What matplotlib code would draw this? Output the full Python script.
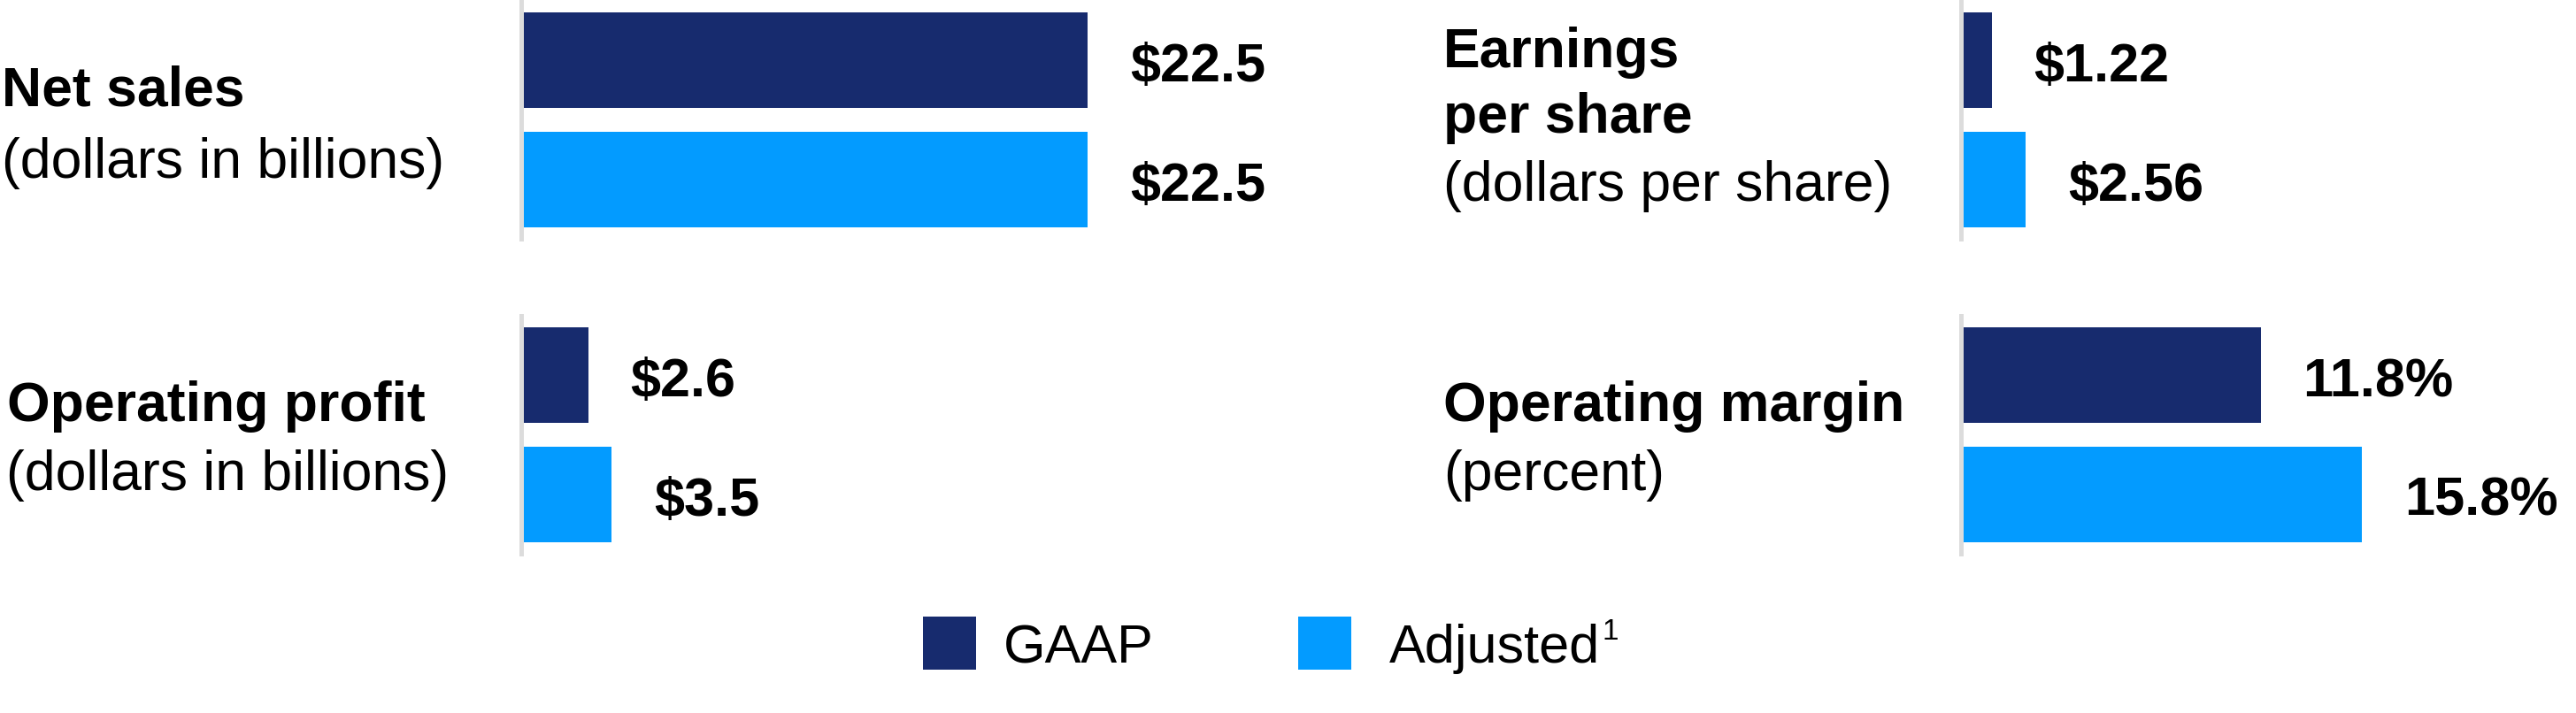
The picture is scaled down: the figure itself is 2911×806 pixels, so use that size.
import matplotlib
matplotlib.use("Agg")
import matplotlib.pyplot as plt
from matplotlib.patches import Rectangle

plt.rcParams['font.family'] = ['Liberation Sans', 'DejaVu Sans']

# ---------------- data ----------------
series = ["GAAP", "Adjusted"]
net_sales = [22.5, 22.5]
op_profit = [2.6, 3.5]
eps = [1.22, 2.56]
op_margin = [11.8, 15.8]
net_sales_labels = ["$22.5", "$22.5"]
op_profit_labels = ["$2.6", "$3.5"]
eps_labels = ["$1.22", "$2.56"]
op_margin_labels = ["11.8%", "15.8%"]

colors = ["#172B6E", "#039BFF"]
AXIS_GRAY = "#DCDCDC"

W, H, DPI = 2911, 806, 100
fig = plt.figure(figsize=(W / DPI, H / DPI), dpi=DPI)
fig.patch.set_facecolor("white")

PX2PT = 72.0 / DPI


def fx(x):
    return x / W


def fy(y):
    return 1 - y / H


def panel(x0, y0, x1, y1, values, labels, ppu):
    ax = fig.add_axes([fx(x0), fy(y1), (x1 - x0) / W, (y1 - y0) / H])
    ax.barh([0, 1], values, height=0.8, color=colors, zorder=1)
    ax.set_ylim(1.5, -0.5)
    ax.set_xlim(0, (x1 - x0) / ppu)
    for s in ["top", "right", "bottom"]:
        ax.spines[s].set_visible(False)
    ax.spines["left"].set_color(AXIS_GRAY)
    ax.spines["left"].set_linewidth(5 * PX2PT)
    ax.spines["left"].set_zorder(3)
    ax.set_xticks([])
    ax.set_yticks([])
    ax.patch.set_visible(False)
    for i, (v, lab) in enumerate(zip(values, labels)):
        ax.annotate(lab, xy=(v, i), xytext=(48 * PX2PT, -24 * PX2PT),
                    textcoords="offset points", ha="left", va="baseline",
                    fontsize=44, fontweight="bold", color="black",
                    annotation_clip=False)
    return ax


panel(588.5, 1, 1580, 270, net_sales, net_sales_labels, 28.47)
panel(588.5, 357, 1580, 626, op_profit, op_profit_labels, 29.3)
panel(2215.5, 1, 2905, 270, eps, eps_labels, 28.8)
panel(2215.5, 357, 2905, 626, op_margin, op_margin_labels, 28.73)

# ---------------- category titles ----------------
def ftext(x, y, s, bold=False):
    fig.text(fx(x), fy(y), s, ha="left", va="baseline", fontsize=45,
             fontweight="bold" if bold else "normal", color="black")


ftext(2, 120, "Net sales", bold=True)
ftext(2, 201, "(dollars in billions)")
ftext(8, 476, "Operating profit", bold=True)
ftext(7, 554, "(dollars in billions)")

ftext(1631, 76, "Earnings", bold=True)
ftext(1631, 150, "per share", bold=True)
ftext(1631, 227, "(dollars per share)")
ftext(1631, 476, "Operating margin", bold=True)
ftext(1631, 554, "(percent)")

# ---------------- legend ----------------
leg_sq_x = [1043, 1467]
leg_txt_x = [1134, 1570]
sq_y0, sq_size = 697, 60
for name, col, sx, tx in zip(series, colors, leg_sq_x, leg_txt_x):
    fig.add_artist(Rectangle((fx(sx), fy(sq_y0 + sq_size)), sq_size / W, sq_size / H,
                             transform=fig.transFigure, facecolor=col,
                             edgecolor="none"))
    t = fig.text(fx(tx), fy(749), name, ha="left", va="baseline",
                 fontsize=44, color="black")
    if name == "Adjusted":
        fig.canvas.draw()
        bb = t.get_window_extent()
        fig.text(bb.x1 / W + 2 / W, fy(699), "1", fontsize=24, color="black",
                 ha="left", va="top")

fig.savefig("out.png", dpi=DPI, facecolor="white")
